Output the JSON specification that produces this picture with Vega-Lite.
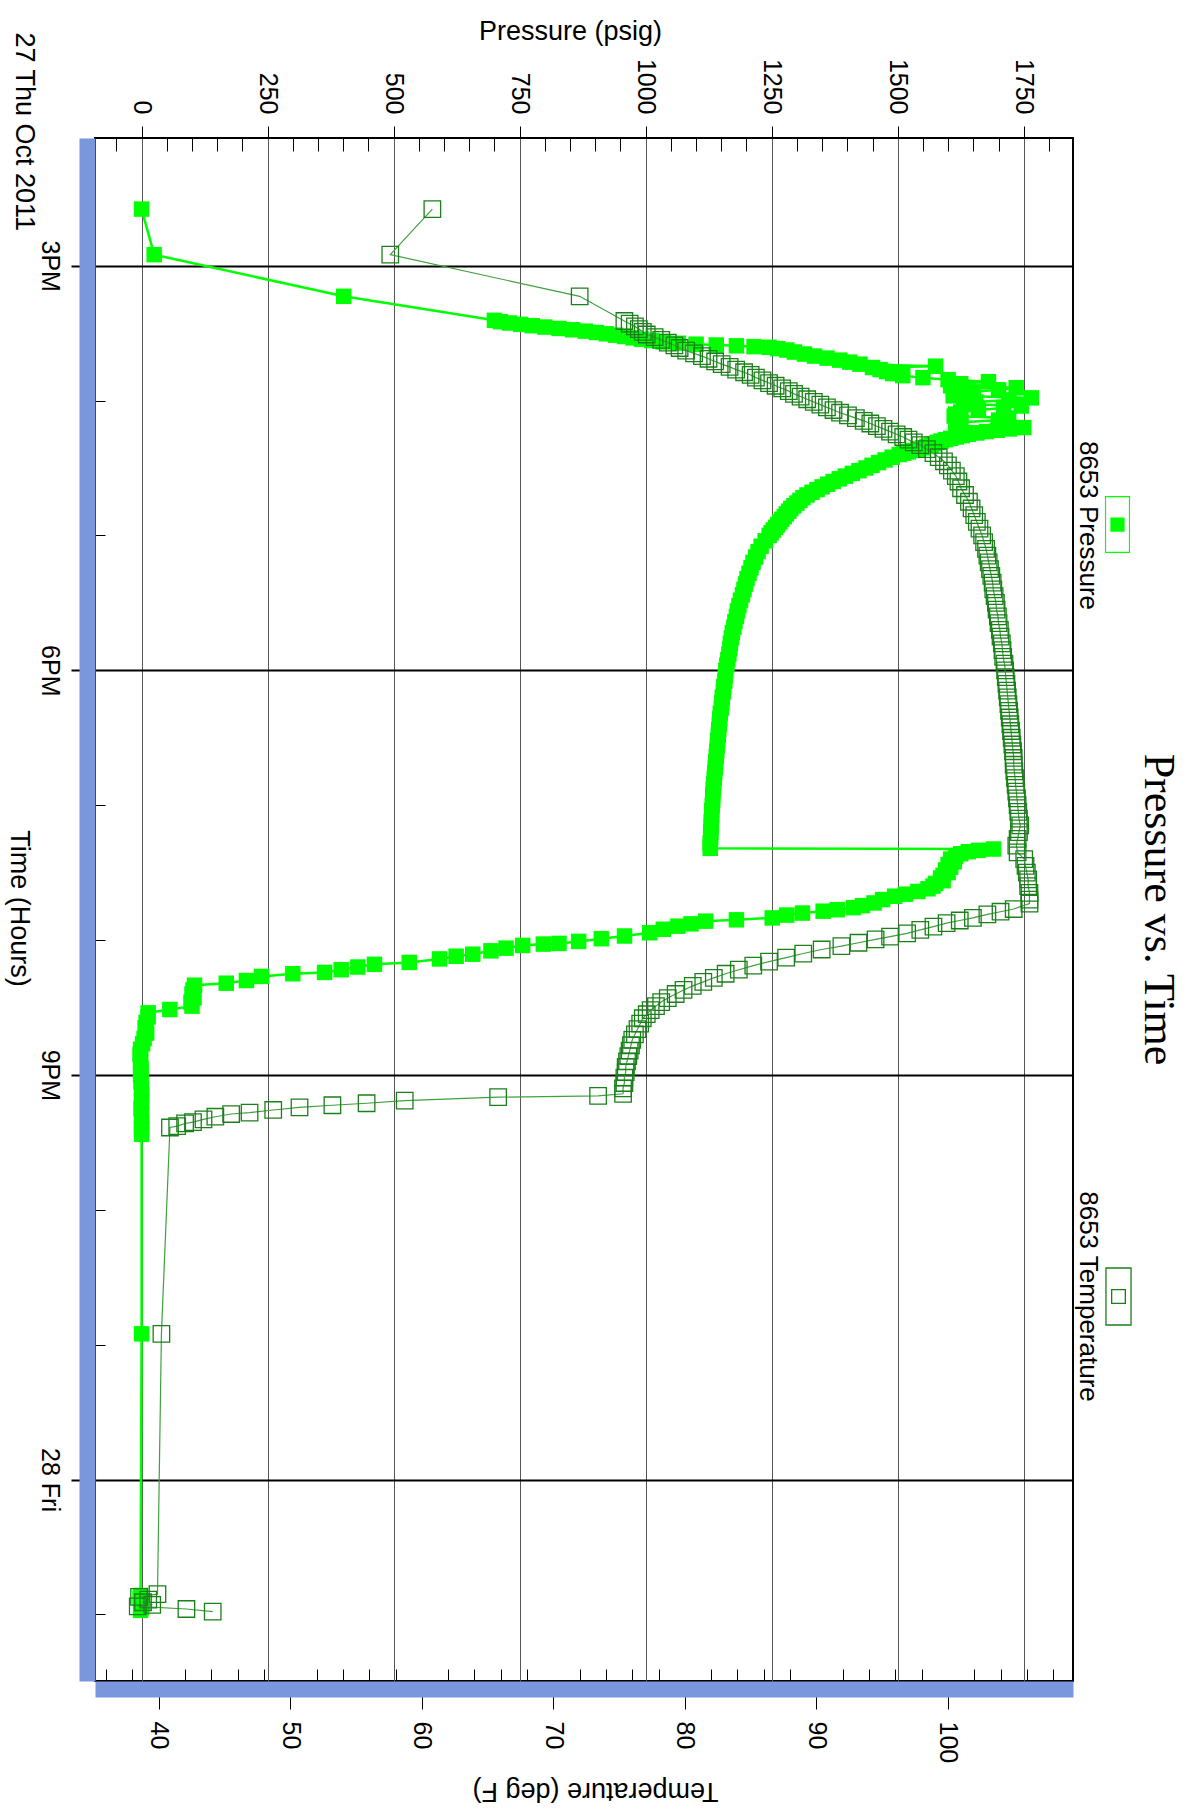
{
  "$schema": "https://vega.github.io/schema/vega-lite/v6.json",
  "width": 978,
  "height": 1543,
  "autosize": {"type": "none"},
  "padding": {"left": 95, "top": 138, "right": 124, "bottom": 131},
  "background": "white",
  "config": {
    "view": {"stroke": "black", "strokeWidth": 2},
    "font": "Liberation Sans",
    "axis": {"labelFont": "Liberation Sans", "labelColor": "black", "titleFont": "Liberation Sans", "titleColor": "black", "titleFontWeight": "normal", "labelOverlap": false, "labelFlush": false, "labelBound": false}
  },
  "title": {"text": "Pressure vs. Time", "orient": "right", "anchor": "middle", "frame": "group", "font": "Liberation Serif", "fontSize": 44, "fontWeight": "normal", "color": "black", "offset": -16},
  "datasets": {
    "pressure": [
      {"h":14.58,"p":0},{"h":14.918,"p":25},{"h":15.227,"p":401},
      {"h":15.405,"p":700},{"h":15.415,"p":712},{"h":15.425,"p":730},{"h":15.435,"p":752},{"h":15.445,"p":775},{"h":15.455,"p":800},{"h":15.465,"p":828},{"h":15.475,"p":855},{"h":15.485,"p":880},{"h":15.495,"p":902},{"h":15.505,"p":922},{"h":15.515,"p":940},{"h":15.525,"p":958},{"h":15.535,"p":975},{"h":15.545,"p":992},{"h":15.555,"p":1012},{"h":15.565,"p":1035},{"h":15.575,"p":1065},{"h":15.582,"p":1100},{"h":15.588,"p":1140},{"h":15.594,"p":1180},{"h":15.6,"p":1215},{"h":15.605,"p":1245},{"h":15.615,"p":1262},{"h":15.625,"p":1280},{"h":15.64,"p":1295},{"h":15.655,"p":1315},{"h":15.67,"p":1335},{"h":15.685,"p":1360},{"h":15.7,"p":1385},{"h":15.715,"p":1405},{"h":15.73,"p":1425},{"h":15.745,"p":1575},{"h":15.755,"p":1450},{"h":15.77,"p":1465},{"h":15.785,"p":1478},{"h":15.8,"p":1490},{"h":15.815,"p":1510},{"h":15.83,"p":1550},{"h":15.845,"p":1600},{"h":15.86,"p":1680},{"h":15.875,"p":1625},{"h":15.89,"p":1605},{"h":15.905,"p":1735},{"h":15.92,"p":1700},{"h":15.935,"p":1650},{"h":15.95,"p":1625},{"h":15.965,"p":1610},{"h":15.98,"p":1765},{"h":15.995,"p":1720},{"h":16.01,"p":1655},{"h":16.025,"p":1630},{"h":16.04,"p":1745},{"h":16.055,"p":1710},{"h":16.07,"p":1660},{"h":16.085,"p":1625},{"h":16.1,"p":1615},{"h":16.115,"p":1612},{"h":16.13,"p":1720},{"h":16.145,"p":1700},{"h":16.16,"p":1625},{"h":16.175,"p":1615},{"h":16.19,"p":1625},{"h":16.2,"p":1750},
      {"h":16.21,"p":1722},{"h":16.22,"p":1698},{"h":16.23,"p":1676},{"h":16.24,"p":1657},{"h":16.25,"p":1640},{"h":16.26,"p":1628},{"h":16.27,"p":1616},{"h":16.28,"p":1605},{"h":16.29,"p":1595},{"h":16.3,"p":1586},{"h":16.31,"p":1578},{"h":16.32,"p":1572},{"h":16.33,"p":1566},{"h":16.34,"p":1558},{"h":16.35,"p":1549},{"h":16.36,"p":1540},{"h":16.37,"p":1530},{"h":16.38,"p":1521},{"h":16.39,"p":1512},{"h":16.4,"p":1503},{"h":16.42,"p":1489},{"h":16.44,"p":1475},{"h":16.46,"p":1462},{"h":16.48,"p":1449},{"h":16.5,"p":1437},{"h":16.52,"p":1423},{"h":16.54,"p":1410},{"h":16.56,"p":1396},{"h":16.58,"p":1384},{"h":16.6,"p":1372},{"h":16.62,"p":1361},{"h":16.64,"p":1350},{"h":16.66,"p":1340},{"h":16.68,"p":1330},{"h":16.7,"p":1320},{"h":16.72,"p":1312},{"h":16.74,"p":1306},{"h":16.76,"p":1300},{"h":16.78,"p":1294},{"h":16.8,"p":1288},{"h":16.82,"p":1284},{"h":16.84,"p":1279},{"h":16.86,"p":1275},{"h":16.88,"p":1270},{"h":16.9,"p":1266},{"h":16.92,"p":1262},{"h":16.94,"p":1258},{"h":16.96,"p":1253},{"h":16.98,"p":1249},{"h":17.0,"p":1245},
      {"h":17.04,"p":1237},{"h":17.08,"p":1229},{"h":17.12,"p":1223},{"h":17.16,"p":1218},{"h":17.2,"p":1213},{"h":17.24,"p":1209},{"h":17.28,"p":1205},{"h":17.32,"p":1201},{"h":17.36,"p":1198},{"h":17.4,"p":1195},{"h":17.44,"p":1192},{"h":17.48,"p":1188},{"h":17.52,"p":1185},{"h":17.56,"p":1182},{"h":17.6,"p":1180},{"h":17.64,"p":1177},{"h":17.68,"p":1175},{"h":17.72,"p":1172},{"h":17.76,"p":1170},{"h":17.8,"p":1168},{"h":17.84,"p":1167},{"h":17.88,"p":1165},{"h":17.92,"p":1163},{"h":17.96,"p":1161},{"h":18.0,"p":1159},{"h":18.04,"p":1158},{"h":18.08,"p":1157},{"h":18.12,"p":1155},{"h":18.16,"p":1154},{"h":18.2,"p":1152},{"h":18.24,"p":1151},{"h":18.28,"p":1150},{"h":18.32,"p":1148},{"h":18.36,"p":1147},{"h":18.4,"p":1146},{"h":18.44,"p":1145},{"h":18.48,"p":1144},{"h":18.52,"p":1143},{"h":18.56,"p":1142},{"h":18.6,"p":1141},{"h":18.64,"p":1140},{"h":18.68,"p":1139},{"h":18.72,"p":1138},{"h":18.76,"p":1137},{"h":18.8,"p":1136},{"h":18.84,"p":1135},{"h":18.88,"p":1134},{"h":18.92,"p":1133},{"h":18.96,"p":1133},{"h":19.0,"p":1132},{"h":19.04,"p":1131},{"h":19.08,"p":1131},{"h":19.12,"p":1130},{"h":19.16,"p":1130},{"h":19.2,"p":1129},{"h":19.24,"p":1129},{"h":19.28,"p":1128},{"h":19.32,"p":1128},
      {"h":19.325,"p":1690},{"h":19.335,"p":1660},{"h":19.345,"p":1640},{"h":19.36,"p":1625},{"h":19.38,"p":1615},{"h":19.4,"p":1605},{"h":19.42,"p":1612},{"h":19.44,"p":1600},{"h":19.46,"p":1605},{"h":19.48,"p":1595},{"h":19.5,"p":1600},{"h":19.52,"p":1590},{"h":19.54,"p":1585},{"h":19.56,"p":1590},{"h":19.58,"p":1575},{"h":19.6,"p":1570},{"h":19.62,"p":1560},{"h":19.64,"p":1540},{"h":19.66,"p":1515},{"h":19.675,"p":1494},{"h":19.7,"p":1470},{"h":19.725,"p":1453},{"h":19.745,"p":1430},{"h":19.76,"p":1412},{"h":19.775,"p":1380},{"h":19.786,"p":1352},{"h":19.8,"p":1311},{"h":19.815,"p":1280},{"h":19.836,"p":1251},{"h":19.85,"p":1180},{"h":19.86,"p":1119},{"h":19.88,"p":1090},{"h":19.897,"p":1064},{"h":19.92,"p":1035},{"h":19.946,"p":1008},{"h":19.97,"p":958},{"h":19.99,"p":912},{"h":20.01,"p":867},{"h":20.025,"p":828},{"h":20.03,"p":797},{"h":20.04,"p":756},{"h":20.06,"p":723},{"h":20.08,"p":693},{"h":20.105,"p":657},{"h":20.12,"p":624},{"h":20.14,"p":591},{"h":20.166,"p":531},{"h":20.18,"p":462},{"h":20.2,"p":429},{"h":20.22,"p":396},{"h":20.24,"p":363},{"h":20.25,"p":300},{"h":20.27,"p":238},{"h":20.3,"p":208},{"h":20.32,"p":168},{"h":20.335,"p":105},{"h":20.37,"p":102},{"h":20.4,"p":100},{"h":20.43,"p":104},{"h":20.46,"p":98},{"h":20.49,"p":100},{"h":20.515,"p":56},{"h":20.54,"p":13},{"h":20.57,"p":13},{"h":20.61,"p":9},{"h":20.65,"p":7},{"h":20.69,"p":10},{"h":20.73,"p":5},{"h":20.77,"p":2},{"h":20.81,"p":-2},{"h":20.85,"p":-3},{"h":20.9,"p":-2},{"h":20.95,"p":-1},{"h":21.0,"p":-2},{"h":21.05,"p":-1},{"h":21.1,"p":0},{"h":21.15,"p":0},{"h":21.2,"p":0},{"h":21.25,"p":-1},{"h":21.3,"p":0},{"h":21.35,"p":0},{"h":21.4,"p":0},{"h":21.44,"p":0},{"h":22.92,"p":0},{"h":24.86,"p":-2},{"h":24.88,"p":-3},{"h":24.9,"p":-1},{"h":24.92,"p":2},{"h":24.95,"p":0},{"h":24.97,"p":-2}
    ],
    "temperature": [
      {"h":14.58,"t":60.8},{"h":14.918,"t":57.6},{"h":15.227,"t":72.0},{"h":15.41,"t":75.4},{"h":15.43,"t":75.8},{"h":15.45,"t":76.2},{"h":15.47,"t":76.5},{"h":15.49,"t":76.8},{"h":15.51,"t":77.1},{"h":15.53,"t":77.7},{"h":15.55,"t":78.2},{"h":15.57,"t":78.7},{"h":15.59,"t":79.2},{"h":15.61,"t":79.6},{"h":15.63,"t":80.1},{"h":15.65,"t":80.7},{"h":15.67,"t":81.3},{"h":15.69,"t":81.8},{"h":15.71,"t":82.3},{"h":15.73,"t":82.8},{"h":15.75,"t":83.4},{"h":15.77,"t":83.9},{"h":15.79,"t":84.5},{"h":15.81,"t":85.0},{"h":15.83,"t":85.4},{"h":15.85,"t":85.9},{"h":15.87,"t":86.4},{"h":15.89,"t":86.9},{"h":15.91,"t":87.4},{"h":15.93,"t":87.9},{"h":15.95,"t":88.3},{"h":15.97,"t":88.8},{"h":15.99,"t":89.3},{"h":16.01,"t":89.8},{"h":16.03,"t":90.3},{"h":16.05,"t":90.8},{"h":16.07,"t":91.3},{"h":16.09,"t":91.8},{"h":16.11,"t":92.4},{"h":16.13,"t":93.0},{"h":16.15,"t":93.6},{"h":16.17,"t":94.1},{"h":16.19,"t":94.6},{"h":16.21,"t":95.1},{"h":16.23,"t":95.6},{"h":16.25,"t":96.1},{"h":16.27,"t":96.6},{"h":16.29,"t":97.0},{"h":16.31,"t":97.4},{"h":16.33,"t":97.9},{"h":16.36,"t":98.4},{"h":16.39,"t":98.9},{"h":16.42,"t":99.3},{"h":16.45,"t":99.7},{"h":16.48,"t":100.0},{"h":16.52,"t":100.3},{"h":16.56,"t":100.6},{"h":16.6,"t":100.8},{"h":16.65,"t":101.0},{"h":16.7,"t":101.3},{"h":16.75,"t":101.6},{"h":16.8,"t":101.8},{"h":16.85,"t":102.0},{"h":16.9,"t":102.2},{"h":16.95,"t":102.4},{"h":17.0,"t":102.6},{"h":17.05,"t":102.75},{"h":17.1,"t":102.9},{"h":17.15,"t":103.0},{"h":17.2,"t":103.1},{"h":17.25,"t":103.2},{"h":17.3,"t":103.3},{"h":17.35,"t":103.4},{"h":17.4,"t":103.45},{"h":17.45,"t":103.55},{"h":17.5,"t":103.65},{"h":17.55,"t":103.7},{"h":17.6,"t":103.8},{"h":17.65,"t":103.85},{"h":17.7,"t":103.95},{"h":17.75,"t":104.0},{"h":17.8,"t":104.1},{"h":17.85,"t":104.15},{"h":17.9,"t":104.2},{"h":17.95,"t":104.3},{"h":18.0,"t":104.35},{"h":18.05,"t":104.4},{"h":18.1,"t":104.45},{"h":18.15,"t":104.5},{"h":18.2,"t":104.55},{"h":18.25,"t":104.6},{"h":18.3,"t":104.65},{"h":18.35,"t":104.7},{"h":18.4,"t":104.75},{"h":18.45,"t":104.8},{"h":18.5,"t":104.85},{"h":18.55,"t":104.9},{"h":18.6,"t":104.95},{"h":18.65,"t":105.0},{"h":18.7,"t":105.0},{"h":18.75,"t":105.05},{"h":18.8,"t":105.1},{"h":18.85,"t":105.15},{"h":18.9,"t":105.2},{"h":18.95,"t":105.25},{"h":19.0,"t":105.3},{"h":19.05,"t":105.35},{"h":19.1,"t":105.4},{"h":19.15,"t":105.5},{"h":19.2,"t":105.4},{"h":19.25,"t":105.3},{"h":19.3,"t":105.2},{"h":19.35,"t":105.3},{"h":19.4,"t":105.8},{"h":19.45,"t":105.9},{"h":19.5,"t":106.0},{"h":19.55,"t":106.1},{"h":19.6,"t":106.1},{"h":19.65,"t":106.2},{"h":19.7,"t":106.2},{"h":19.73,"t":106.2},
      {"h":19.77,"t":105.0},{"h":19.79,"t":104.0},{"h":19.81,"t":103.0},{"h":19.835,"t":101.9},{"h":19.855,"t":100.9},{"h":19.875,"t":99.9},{"h":19.9,"t":98.9},{"h":19.925,"t":97.9},{"h":19.95,"t":96.9},{"h":19.975,"t":95.6},{"h":19.995,"t":94.5},{"h":20.02,"t":93.2},{"h":20.045,"t":91.9},{"h":20.07,"t":90.4},{"h":20.1,"t":89.0},{"h":20.13,"t":87.7},{"h":20.16,"t":86.4},{"h":20.19,"t":85.2},{"h":20.22,"t":84.1},{"h":20.25,"t":83.1},{"h":20.28,"t":82.2},{"h":20.31,"t":81.4},{"h":20.34,"t":80.6},{"h":20.37,"t":79.9},{"h":20.4,"t":79.3},{"h":20.43,"t":78.7},{"h":20.46,"t":78.2},{"h":20.49,"t":77.8},{"h":20.52,"t":77.4},{"h":20.55,"t":77.1},{"h":20.58,"t":76.8},{"h":20.62,"t":76.6},{"h":20.66,"t":76.4},{"h":20.7,"t":76.2},{"h":20.74,"t":76.0},{"h":20.78,"t":75.9},{"h":20.82,"t":75.8},{"h":20.86,"t":75.7},{"h":20.9,"t":75.6},{"h":20.94,"t":75.5},{"h":20.98,"t":75.5},{"h":21.02,"t":75.4},{"h":21.06,"t":75.4},{"h":21.1,"t":75.3},{"h":21.14,"t":75.3},{"h":21.155,"t":73.4},{"h":21.165,"t":65.8},{"h":21.19,"t":58.7},{"h":21.21,"t":55.8},{"h":21.225,"t":53.2},{"h":21.24,"t":50.7},{"h":21.26,"t":48.7},{"h":21.28,"t":46.9},{"h":21.29,"t":45.5},{"h":21.31,"t":44.3},{"h":21.33,"t":43.4},{"h":21.35,"t":42.6},{"h":21.36,"t":42.0},{"h":21.38,"t":41.4},{"h":21.39,"t":40.85},{"h":22.92,"t":40.2},{"h":24.85,"t":39.9},{"h":24.87,"t":38.5},{"h":24.89,"t":39.2},{"h":24.91,"t":38.8},{"h":24.93,"t":39.5},{"h":24.94,"t":38.4},{"h":24.96,"t":42.1},{"h":24.98,"t":44.1}
    ]
  },
  "layer": [
    {
      "data": {"name": "pressure"},
      "mark": {"type": "line", "color": "#00ff00", "strokeWidth": 2.5},
      "encoding": {
        "x": {"field": "p", "type": "quantitative", "scale": {"domain": [-92.4, 1847.7], "nice": false, "zero": false},
          "axis": {"orient": "top", "title": "Pressure (psig)", "titleFontSize": 27, "titleX": 475, "titleY": -107, "titleAlign": "center", "titleBaseline": "middle", "titleAngle": 0,
            "values": [-50,0,50,100,150,200,250,300,350,400,450,500,550,600,650,700,750,800,850,900,950,1000,1050,1100,1150,1200,1250,1300,1350,1400,1450,1500,1550,1600,1650,1700,1750,1800],
            "format": "d", "labelExpr": "datum.value % 250 === 0 ? datum.label : ''",
            "labelAngle": 90, "labelAlign": "right", "labelBaseline": "middle", "labelFontSize": 25, "labelPadding": 12,
            "domain": false, "tickColor": "black", "tickWidth": 1,
            "tickSize": {"condition": {"test": "datum.value % 250 === 0", "value": 12}, "value": -13},
            "grid": true, "gridColor": "#555555", "gridWidth": 1,
            "gridOpacity": {"condition": {"test": "datum.value % 250 === 0", "value": 1}, "value": 0}}},
        "y": {"field": "h", "type": "quantitative", "scale": {"domain": [14.053, 25.494], "reverse": true, "nice": false, "zero": false},
          "axis": {"orient": "left", "offset": 8, "title": "Time (Hours)", "titleFontSize": 27, "titleAngle": 90, "titleX": -69, "titleY": 770, "titleAlign": "center", "titleBaseline": "middle",
            "values": [15,16,17,18,19,20,21,22,23,24,25],
            "labelExpr": "datum.value === 24 ? '28 Fri' : (datum.value % 3 === 0 ? (datum.value - 12) + 'PM' : '')",
            "labelAngle": 90, "labelAlign": "center", "labelBaseline": "top", "labelFontSize": 25, "labelPadding": 10,
            "domain": true, "domainColor": "#7a96dc", "domainWidth": 16,
            "tickColor": "black",
            "tickWidth": {"condition": {"test": "datum.value % 3 === 0", "value": 2}, "value": 1},
            "tickSize": {"condition": {"test": "datum.value % 3 === 0", "value": 16}, "value": -18},
            "grid": true, "gridColor": "black", "gridWidth": 2,
            "gridOpacity": {"condition": {"test": "datum.value % 3 === 0", "value": 1}, "value": 0}}},
        "order": {"field": "h", "type": "quantitative"}
      }
    },
    {
      "data": {"name": "pressure"},
      "mark": {"type": "point", "shape": "square", "filled": true, "size": 240, "opacity": 1, "strokeWidth": 0},
      "encoding": {
        "x": {"field": "p", "type": "quantitative", "scale": {"domain": [-92.4, 1847.7], "nice": false, "zero": false}, "axis": null},
        "y": {"field": "h", "type": "quantitative", "scale": {"domain": [14.053, 25.494], "reverse": true, "nice": false, "zero": false},
          "axis": {"orient": "right", "title": "8653 Pressure", "titleFontSize": 26, "titleAngle": 90, "titleX": 14, "titleY": 387, "titleAlign": "center", "titleBaseline": "middle",
            "labels": false, "ticks": false, "domain": false, "grid": false}},
        "fill": {"datum": "8653 Pressure", "type": "nominal",
          "scale": {"domain": ["8653 Pressure"], "range": ["#00ff00"]},
          "legend": {"title": null, "orient": "none", "legendX": 994, "legendY": 358, "padding": 0, "labelExpr": "''",
            "symbolSize": 3249, "symbolStrokeWidth": 0,
            "symbolType": "M-0.44,-1L0.44,-1L0.44,1L-0.44,1ZM-0.4,-0.96L-0.4,0.96L0.4,0.96L0.4,-0.96ZM-0.25,-0.25L0.25,-0.25L0.25,0.25L-0.25,0.25Z"}}
      }
    },
    {
      "data": {"name": "temperature"},
      "mark": {"type": "line", "color": "#3fa03f", "strokeWidth": 1.2},
      "encoding": {
        "x": {"field": "t", "type": "quantitative", "scale": {"domain": [35.15, 109.51], "nice": false, "zero": false},
          "axis": {"orient": "bottom", "offset": 8, "title": "Temperature (deg F)", "titleFontSize": 27, "titleAngle": 180, "titleX": 500, "titleY": 101, "titleAlign": "center", "titleBaseline": "middle",
            "values": [36,38,40,42,44,46,48,50,52,54,56,58,60,62,64,66,68,70,72,74,76,78,80,82,84,86,88,90,92,94,96,98,100,102,104,106,108],
            "format": "d", "labelExpr": "datum.value % 10 === 0 ? datum.label : ''",
            "labelAngle": 90, "labelAlign": "left", "labelBaseline": "middle", "labelFontSize": 25, "labelPadding": 12,
            "domain": true, "domainColor": "#7a96dc", "domainWidth": 16,
            "tickColor": "black", "tickWidth": 1,
            "tickSize": {"condition": {"test": "datum.value % 10 === 0", "value": 20}, "value": -20},
            "grid": false}},
        "y": {"field": "h", "type": "quantitative", "scale": {"domain": [14.053, 25.494], "reverse": true, "nice": false, "zero": false},
          "axis": {"orient": "left", "title": "27 Thu Oct 2011", "titleFontSize": 27, "titleAngle": 90, "titleX": -72, "titleY": -106, "titleAlign": "left", "titleBaseline": "middle",
            "labels": false, "ticks": false, "domain": false, "grid": false}},
        "order": {"field": "h", "type": "quantitative"}
      }
    },
    {
      "data": {"name": "temperature"},
      "mark": {"type": "point", "shape": "square", "filled": false, "size": 272, "opacity": 1, "strokeWidth": 1.3},
      "encoding": {
        "x": {"field": "t", "type": "quantitative", "scale": {"domain": [35.15, 109.51], "nice": false, "zero": false}, "axis": null},
        "y": {"field": "h", "type": "quantitative", "scale": {"domain": [14.053, 25.494], "reverse": true, "nice": false, "zero": false},
          "axis": {"orient": "right", "title": "8653 Temperature", "titleFontSize": 26, "titleAngle": 90, "titleX": 14, "titleY": 1158, "titleAlign": "center", "titleBaseline": "middle",
            "labels": false, "ticks": false, "domain": false, "grid": false}},
        "stroke": {"datum": "8653 Temperature", "type": "nominal",
          "scale": {"domain": ["8653 Temperature"], "range": ["#1a801a"]},
          "legend": {"title": null, "orient": "none", "legendX": 994, "legendY": 1129, "padding": 0, "labelExpr": "''",
            "symbolSize": 3249, "symbolStrokeWidth": 1.3,
            "symbolType": "M-0.44,-1L0.44,-1L0.44,1L-0.44,1ZM-0.24,-0.24L0.24,-0.24L0.24,0.24L-0.24,0.24Z"}}
      }
    }
  ],
  "resolve": {"scale": {"x": "independent"}, "axis": {"x": "independent", "y": "independent"}}
}
